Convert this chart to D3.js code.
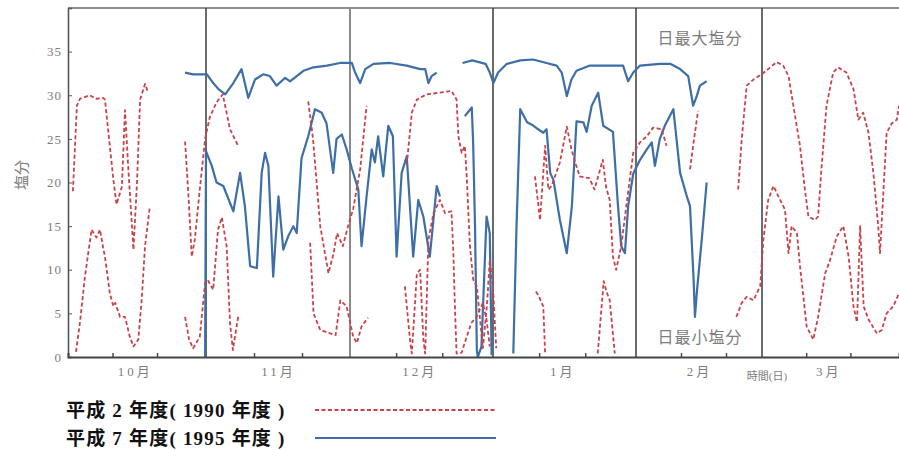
<!DOCTYPE html>
<html>
<head>
<meta charset="utf-8">
<script src="https://cdn.jsdelivr.net/npm/d3@7"></script>
<style>
  body { margin: 0; background: #fff; }
  svg { display: block; }
</style>
</head>
<body>
<svg id="chart" width="899" height="450"></svg>
<script>
// days counted from 1 Oct; season runs Oct -> Mar
const monthLabels = ['10月', '11月', '12月', '1月', '2月', '3月']
const monthStarts = [0, 31, 61, 92, 123, 151, 182]
const monthMids = [15, 46, 76, 107, 137, 166]
const minorTickDays = [10, 20, 41, 51, 71, 81, 102, 112, 133, 143, 161, 171]
const yTicks = [0, 5, 10, 15, 20, 25, 30, 35]

// [day, salinity]; null value = missing record
const max1990 = [
  [1.1, 19.0], [2.0, 28.8], [2.7, 29.6], [4.9, 30.0], [6.3, 29.6], [7.9, 29.7], [8.3, 29.5],
  [10.2, 20.3], [10.9, 17.5], [12.1, 19.5], [12.8, 28.3], [13.5, 22.0], [14.7, 12.3],
  [15.5, 20.0], [16.2, 29.5], [17.3, 31.3], [18.0, 30.3], [18.1, null],
  [26.3, 24.7], [27.0, 19.0], [27.8, 11.5], [28.5, 13.5], [29.6, 19.2], [30.8, 25.0],
  [31.8, 27.5], [33.2, 29.2], [34.5, 30.1], [36.0, 26.1], [37.7, 24.2], [37.8, null],
  [52.3, 29.3], [53.3, 25.0], [54.8, 15.0], [56.5, 9.6], [57.6, 11.9], [58.3, 14.2],
  [59.5, 12.7], [60.6, 15.0], [61.7, 17.0], [63.2, 21.5], [64.6, 28.8], [64.7, null],
  [73.3, 22.0], [74.4, 28.0], [75.5, 29.5], [77.6, 30.1], [80.5, 30.3], [83.0, 30.5],
  [84.1, 29.5], [84.5, 25.3], [85.2, 23.4], [85.9, 24.2], [86.3, 20.7], [87.0, 12.7],
  [87.7, 8.9], [88.5, 8.1], [89.2, 4.3], [89.8, 1.0], [90.7, 6.0], [91.3, 11.1],
  [92.0, 8.0], [92.7, 1.0], [92.8, null],
  [101.1, 20.7], [102.2, 15.7], [103.3, 24.2], [104.0, 19.2], [104.7, 19.6], [106.5, 22.3],
  [108.0, 26.4], [109.0, 23.8], [110.0, 22.0], [110.8, 20.7], [112.9, 20.5], [114.0, 19.2],
  [115.8, 22.6], [116.5, 19.5], [117.3, 18.0], [118.0, 11.5], [118.7, 10.0], [119.8, 12.7],
  [120.9, 17.3], [122.4, 23.4], [123.9, 24.6], [125.4, 25.3], [126.8, 26.3], [128.7, 26.1],
  [129.8, 24.2], [129.9, null],
  [135.0, 21.5], [135.9, 25.0], [136.8, 28.2], [136.9, null],
  [145.7, 19.2], [146.5, 25.0], [147.6, 31.1], [149.1, 31.8], [150.9, 32.4], [152.4, 33.0],
  [154.3, 33.8], [155.8, 33.4], [157.0, 32.2], [158.1, 28.8], [159.6, 24.2], [160.7, 19.2],
  [161.5, 16.1], [163.0, 15.7], [163.7, 16.1], [164.5, 21.9], [165.6, 28.8], [167.1, 32.6],
  [168.2, 33.2], [170.1, 32.6], [171.7, 30.7], [172.8, 27.2], [173.9, 28.0], [175.1, 25.7],
  [176.2, 21.1], [177.3, 15.0], [177.7, 11.9], [178.5, 19.2], [179.2, 25.7], [180.4, 26.8],
  [181.5, 27.2], [182.0, 28.8]
]

const min1990 = [
  [1.8, 0.6], [2.7, 4.0], [3.8, 9.2], [5.3, 14.6], [6.4, 13.7], [7.2, 14.6], [7.9, 12.5],
  [8.3, 11.5], [9.4, 7.3], [10.2, 5.8], [10.6, 6.2], [11.7, 4.6], [12.8, 4.6], [13.9, 2.3],
  [14.7, 1.2], [15.8, 2.0], [16.6, 6.9], [17.3, 12.7], [18.4, 17.3], [18.5, null],
  [26.3, 4.6], [27.2, 2.0], [28.1, 1.0], [29.6, 2.3], [30.8, 8.5], [31.4, 8.8], [32.5, 7.7],
  [33.5, 14.6], [34.3, 16.0], [35.3, 12.7], [36.0, 3.9], [36.6, 0.8], [37.7, 4.6], [37.8, null],
  [52.7, 13.1], [53.4, 5.0], [54.8, 3.1], [56.9, 2.7], [58.0, 2.5], [59.0, 6.5], [60.3, 5.8],
  [61.7, 2.3], [62.5, 1.6], [63.5, 3.5], [64.9, 4.5], [65.0, null],
  [72.9, 8.1], [74.0, 2.0], [74.4, 0.4], [75.5, 9.6], [76.2, 10.0], [76.9, 2.0], [77.3, 0.4],
  [78.0, 13.4], [79.1, 16.5], [80.5, 18.0], [81.6, 16.5], [83.0, 16.7], [83.4, 12.0],
  [83.7, 6.5], [84.1, 0.4], [85.2, 0.5], [86.1, 2.0], [87.3, 3.9], [88.4, 4.6], [89.8, 6.2],
  [90.6, 4.3], [91.3, 1.2], [91.4, null],
  [101.3, 7.5], [101.8, 7.1], [102.9, 5.8], [103.3, 0.4], [103.4, null],
  [114.7, 0.4], [116.0, 8.7], [116.6, 7.5], [117.3, 6.5], [118.4, 0.4], [118.5, null],
  [145.3, 4.6], [146.5, 6.2], [147.6, 6.9], [149.1, 6.5], [150.6, 8.1], [151.3, 13.4],
  [152.4, 18.0], [153.6, 19.6], [155.1, 18.0], [156.2, 16.9], [157.0, 11.9], [157.7, 15.0],
  [158.9, 14.2], [159.6, 10.4], [161.1, 3.5], [162.6, 2.0], [163.7, 4.6], [165.3, 9.6],
  [166.4, 11.1], [167.9, 13.8], [169.4, 15.0], [170.6, 11.5], [171.7, 5.8], [172.5, 4.0],
  [173.2, 15.0], [174.0, 5.8], [175.1, 4.3], [177.0, 2.7], [178.1, 3.1], [179.2, 5.0],
  [180.7, 5.8], [182.0, 7.3]
]

const max1995 = [
  [26.3, 32.6], [28.1, 32.4], [31.2, 32.4], [32.5, 31.4], [33.6, 30.7], [35.0, 30.1],
  [36.7, 31.4], [38.4, 33.0], [39.8, 29.7], [41.2, 31.8], [42.9, 32.4], [44.3, 32.2],
  [45.7, 31.1], [47.5, 32.0], [48.5, 31.6], [49.9, 32.2], [51.3, 32.8], [53.4, 33.2],
  [56.2, 33.4], [58.9, 33.7], [61.4, 33.7], [62.1, 32.6], [63.2, 31.4], [64.3, 33.0],
  [66.1, 33.6], [69.7, 33.7], [73.3, 33.4], [76.2, 33.0], [77.3, 33.0], [78.0, 31.4],
  [78.7, 32.2], [79.8, 32.6], [79.9, null],
  [85.4, 33.7], [87.5, 34.0], [90.4, 33.6], [91.3, 32.6], [92.1, 31.4], [93.1, 32.6],
  [95.0, 33.6], [97.9, 34.0], [100.7, 34.1], [103.6, 33.7], [105.8, 33.4], [106.9, 32.6],
  [108.0, 29.9], [109.0, 31.8], [110.1, 32.8], [113.0, 33.4], [118.0, 33.4], [120.2, 33.4],
  [121.3, 31.6], [122.4, 32.6], [123.9, 33.4], [128.3, 33.6], [130.6, 33.6], [132.8, 33.0],
  [134.6, 32.2], [135.7, 28.8], [136.5, 29.9], [137.2, 31.1], [138.7, 31.6]
]

const min1995 = [
  [30.8, 0.0], [31.0, 23.6], [32.2, 21.9], [33.2, 20.0], [34.6, 19.6], [36.7, 16.7],
  [38.1, 21.1], [39.1, 17.3], [40.2, 10.4], [41.6, 10.2], [42.6, 21.1], [43.3, 23.4],
  [44.0, 21.9], [45.0, 9.2], [46.1, 18.4], [47.1, 12.3], [48.1, 13.8], [49.2, 15.0],
  [49.9, 14.2], [50.9, 22.8], [52.3, 25.3], [53.7, 28.4], [55.1, 28.0], [56.1, 26.8],
  [57.5, 21.1], [58.2, 25.0], [59.3, 25.5], [60.3, 23.8], [61.4, 21.6], [62.8, 19.2],
  [63.5, 12.7], [64.6, 18.4], [65.7, 23.8], [66.4, 22.3], [67.1, 25.3], [68.2, 20.7],
  [69.3, 26.5], [70.3, 25.3], [71.1, 11.5], [72.2, 21.1], [73.3, 23.0], [74.7, 11.5],
  [75.8, 18.0], [76.9, 16.1], [78.3, 11.5], [79.8, 19.6], [80.5, 18.4], [80.6, null],
  [85.9, 27.6], [87.4, 28.6], [87.7, 24.5], [88.1, 15.0], [88.5, 0.8], [88.7, 0.0],
  [89.5, 1.2], [90.6, 16.1], [91.3, 14.2], [91.7, 0.2], [91.8, null],
  [96.4, 0.4], [97.1, 15.0], [97.9, 28.4], [99.4, 26.9], [100.8, 26.5], [101.8, 26.1],
  [102.9, 25.7], [103.6, 26.1], [104.4, 21.1], [105.1, 20.3], [106.5, 15.7], [108.0, 11.9],
  [109.1, 17.3], [110.1, 27.0], [111.6, 26.9], [112.3, 25.8], [113.4, 28.8], [114.8, 30.3],
  [115.9, 26.5], [118.0, 25.8], [119.1, 17.3], [119.8, 12.7], [120.6, 11.9], [121.3, 17.3],
  [122.4, 21.0], [123.9, 22.6], [125.4, 23.8], [126.5, 24.6], [127.2, 21.9], [128.3, 25.0],
  [129.4, 26.5], [131.3, 28.4], [132.0, 25.0], [132.8, 21.1], [134.3, 18.4], [135.0, 17.3],
  [135.8, 8.9], [136.1, 4.6], [136.5, 7.3], [137.6, 13.4], [138.7, 20.0]
]

const legendItems = [
  { label: '平成 2 年度( 1990 年度 )', color: '#c9424a', dash: '4,2.5', width: 1.8 },
  { label: '平成 7 年度( 1995 年度 )', color: '#3d6fa6', dash: null, width: 2.2 }
]

const svg = d3.select('#chart')
const W = 899, H = 450
const M = { left: 68, top: 8, bottom: 357, right: 899 }

svg.append('rect').attr('width', W).attr('height', H).attr('fill', '#fff')

// month boundaries are not evenly spaced in the original, so use a piecewise range
const x = d3.scaleLinear()
  .domain(monthStarts)
  .range([68, 206, 350, 493, 636, 762, 899])
const y = d3.scaleLinear().domain([0, 40]).range([M.bottom, M.top])

const defs = svg.append('defs')
defs.append('clipPath').attr('id', 'plotclip')
  .append('rect').attr('x', M.left).attr('y', M.top)
  .attr('width', M.right - M.left).attr('height', M.bottom - M.top)

const gray = '#7d7d7d'
const serif = '"Liberation Serif", "DejaVu Serif", "Noto Sans CJK JP", serif'

// frame
svg.append('line').attr('x1', M.left).attr('x2', M.right).attr('y1', M.top).attr('y2', M.top)
  .attr('stroke', '#6a6a6a').attr('stroke-width', 1.6)

// month separators
svg.append('g').selectAll('line').data(monthStarts.slice(1, 6)).join('line')
  .attr('x1', d => x(d)).attr('x2', d => x(d))
  .attr('y1', M.top).attr('y2', M.bottom)
  .attr('stroke', (d, i) => i === 1 ? '#8a8a8a' : '#3a3a3a')
  .attr('stroke-width', (d, i) => i === 1 ? 2 : 1.5)

// series
const line = d3.line()
  .defined(d => d[1] != null)
  .x(d => x(d[0]))
  .y(d => y(d[1]))

const gLines = svg.append('g').attr('clip-path', 'url(#plotclip)')
const series = [
  { data: max1995, style: legendItems[1] },
  { data: min1995, style: legendItems[1] },
  { data: max1990, style: legendItems[0] },
  { data: min1990, style: legendItems[0] }
]
series.forEach(s => {
  gLines.append('path')
    .attr('d', line(s.data))
    .attr('fill', 'none')
    .attr('stroke', s.style.color)
    .attr('stroke-width', s.style.width)
    .attr('stroke-dasharray', s.style.dash)
    .attr('stroke-linejoin', 'round')
})

// y axis
const gY = svg.append('g').attr('transform', `translate(${M.left},0)`)
  .call(d3.axisLeft(y).tickValues(yTicks).tickSize(-4).tickPadding(6))
gY.select('.domain').attr('stroke', '#555').attr('stroke-width', 1.6)
gY.selectAll('.tick line').attr('stroke', '#555')
gY.selectAll('.tick text').attr('font-family', serif).attr('font-size', 13)
  .attr('fill', gray).attr('letter-spacing', 1)

// x axis: minor ticks pointing inward
const gX = svg.append('g').attr('transform', `translate(0,${M.bottom})`)
  .call(d3.axisBottom(x).tickValues(minorTickDays).tickSize(-4).tickFormat(''))
gX.select('.domain').attr('stroke', '#444').attr('stroke-width', 2)
gX.selectAll('.tick line').attr('stroke', '#444').attr('stroke-width', 1.4)

// month labels
const gM = svg.append('g').attr('transform', `translate(0,${M.bottom})`)
  .call(d3.axisBottom(x).tickValues(monthMids).tickSize(0).tickPadding(10)
    .tickFormat((d, i) => monthLabels[i]))
gM.select('.domain').remove()
gM.selectAll('.tick text').attr('font-family', serif).attr('font-size', 13)
  .attr('fill', gray).attr('letter-spacing', 3)

svg.append('text').attr('x', 767).attr('y', 380).attr('text-anchor', 'middle')
  .attr('font-family', serif).attr('font-size', 11).attr('fill', gray)
  .text('時間(日)')

// axis title
svg.append('text').attr('transform', 'rotate(-90)')
  .attr('x', -175).attr('y', 27).attr('text-anchor', 'middle')
  .attr('font-family', serif).attr('font-size', 15).attr('fill', gray)
  .text('塩分')

// annotations
svg.append('text').attr('x', 700).attr('y', 44).attr('text-anchor', 'middle')
  .attr('font-family', serif).attr('font-size', 16).attr('fill', gray).attr('letter-spacing', 1)
  .text('日最大塩分')
svg.append('text').attr('x', 700).attr('y', 343).attr('text-anchor', 'middle')
  .attr('font-family', serif).attr('font-size', 16).attr('fill', gray).attr('letter-spacing', 1)
  .text('日最小塩分')

// legend
const gL = svg.append('g')
legendItems.forEach((d, i) => {
  const ly = 410 + i * 28
  gL.append('text').attr('x', 66).attr('y', ly + 7)
    .attr('font-family', serif).attr('font-size', 19).attr('font-weight', 'bold')
    .attr('letter-spacing', 1.2)
    .attr('fill', '#111').text(d.label)
  gL.append('line').attr('x1', 315).attr('x2', 496).attr('y1', ly).attr('y2', ly)
    .attr('stroke', d.color).attr('stroke-width', d.width)
    .attr('stroke-dasharray', d.dash)
})
</script>
</body>
</html>
